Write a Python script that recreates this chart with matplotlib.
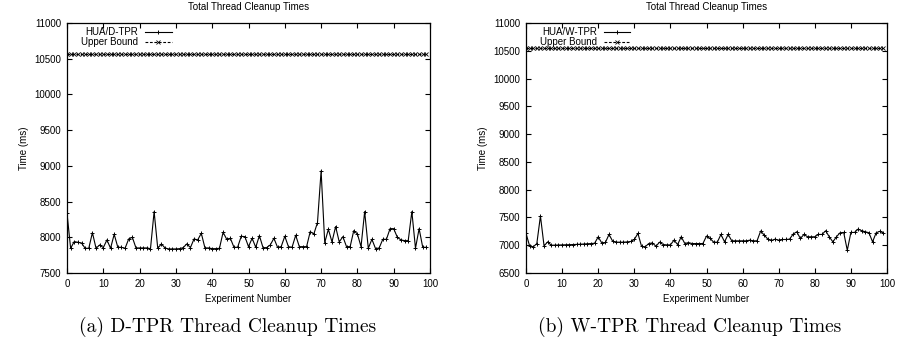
import matplotlib
matplotlib.use("Agg")
import matplotlib.pyplot as plt
import numpy as np

# ---------------- data ----------------
experiments = list(range(100))

dtpr_times = [
    8336, 7846, 7940, 7930, 7920, 7846, 7846, 8065, 7846, 7893,
    7855, 7963, 7846, 8042, 7860, 7860, 7846, 7977, 8000, 7851,
    7851, 7851, 7851, 7841, 8360, 7846, 7907, 7851, 7837, 7837,
    7837, 7841, 7855, 7907, 7855, 7977, 7963, 8056, 7851, 7851,
    7841, 7841, 7846, 8070, 7972, 7986, 7860, 7860, 8014, 8009,
    7869, 7986, 7860, 8023, 7855, 7855, 7893, 7986, 7860, 7869,
    8014, 7869, 7860, 8028, 7869, 7869, 7869, 8079, 8047, 8205,
    8929, 7925, 8112, 7935, 8150, 7935, 8009, 7869, 7869, 8093,
    8047, 7869, 8360, 7846, 7972, 7841, 7851, 7972, 7972, 8121,
    8121, 8000, 7963, 7953, 7953, 8360, 7846, 8121, 7860, 7860,
]

wtpr_times = [
    7212, 6988, 6970, 7030, 7527, 6988, 7060, 7000, 7002, 7004,
    7006, 7008, 7010, 7012, 7015, 7018, 7022, 7026, 7030, 7035,
    7150, 7040, 7050, 7194, 7073, 7055, 7055, 7055, 7060, 7067,
    7103, 7212, 6982, 6970, 7030, 7042, 6982, 7055, 7012, 7006,
    7006, 7091, 7012, 7152, 7030, 7048, 7030, 7030, 7030, 7030,
    7164, 7121, 7055, 7055, 7194, 7061, 7194, 7079, 7079, 7079,
    7079, 7079, 7091, 7079, 7079, 7255, 7182, 7109, 7085, 7109,
    7091, 7103, 7103, 7109, 7200, 7242, 7121, 7194, 7152, 7152,
    7152, 7194, 7194, 7260, 7152, 7061, 7152, 7224, 7230, 6909,
    7230, 7230, 7290, 7261, 7242, 7224, 7061, 7224, 7250, 7220,
]

upper_bound_d = [10560] * 100
upper_bound_w = [10555] * 100

panels = [
    dict(series=dtpr_times, bound=upper_bound_d, label="HUA/D-TPR",
         ylim=(7500, 11000), yticks=list(range(7500, 11001, 500)),
         caption="(a) D-TPR Thread Cleanup Times"),
    dict(series=wtpr_times, bound=upper_bound_w, label="HUA/W-TPR",
         ylim=(6500, 11000), yticks=list(range(6500, 11001, 500)),
         caption="(b) W-TPR Thread Cleanup Times"),
]
xticks = list(range(0, 101, 10))
title = "Total Thread Cleanup Times"
xlabel = "Experiment Number"
ylabel = "Time (ms)"

# ---------------- style ----------------
W, H = 898, 343
fig = plt.figure(figsize=(W / 100, H / 100), dpi=100)
sans = ["Liberation Sans", "DejaVu Sans"]
small = 7

axes_px = [(67, 23, 363, 250), (526, 23, 361, 250)]
caption_cx = [228, 690]

for p, (x0, y0, w, h), ccx in zip(panels, axes_px, caption_cx):
    ax = fig.add_axes([x0 / W, 1 - (y0 + h) / H, w / W, h / H])
    ax.plot(experiments, p["series"], color="black", lw=0.8,
            marker="+", ms=3.5, mew=0.7)
    ax.plot(experiments, p["bound"], color="black", lw=0.8, ls=(0, (2.5, 1.5)),
            marker="x", ms=2.6, mew=0.6)
    ax.set_xlim(0, 100)
    ax.set_ylim(*p["ylim"])
    ax.set_xticks(xticks)
    ax.set_yticks(p["yticks"])
    ax.tick_params(direction="in", top=True, right=True, length=3.5,
                   width=0.8, labelsize=small, pad=4)
    for lab in ax.get_xticklabels() + ax.get_yticklabels():
        lab.set_family(sans)
    for s in ax.spines.values():
        s.set_linewidth(0.9)
    ax.set_title(title, fontsize=small, family=sans, pad=9)
    ax.set_xlabel(xlabel, fontsize=small, family=sans, labelpad=4)
    ax.set_ylabel(ylabel, fontsize=small, family=sans, labelpad=4)

    # legend (gnuplot style: text right-aligned, sample on the right)
    tr = ax.transAxes
    ax.text(0.196, 0.964, p["label"], transform=tr, ha="right", va="center",
            fontsize=small, family=sans)
    ax.text(0.196, 0.924, "Upper Bound", transform=tr, ha="right", va="center",
            fontsize=small, family=sans)
    ax.plot([0.215, 0.289], [0.964, 0.964], transform=tr, color="black", lw=0.8)
    ax.plot([0.252], [0.964], transform=tr, color="black", marker="+", ms=3.5, mew=0.7)
    ax.plot([0.215, 0.289], [0.924, 0.924], transform=tr, color="black", lw=0.8,
            ls=(0, (2.5, 1.5)))
    ax.plot([0.252], [0.924], transform=tr, color="black", marker="x", ms=2.6, mew=0.6)

    fig.text(ccx / W, 1 - 327 / H, p["caption"], ha="center", va="center",
             fontsize=14, family=["cmr10", "DejaVu Serif"])

fig.savefig("out.png", dpi=100)
